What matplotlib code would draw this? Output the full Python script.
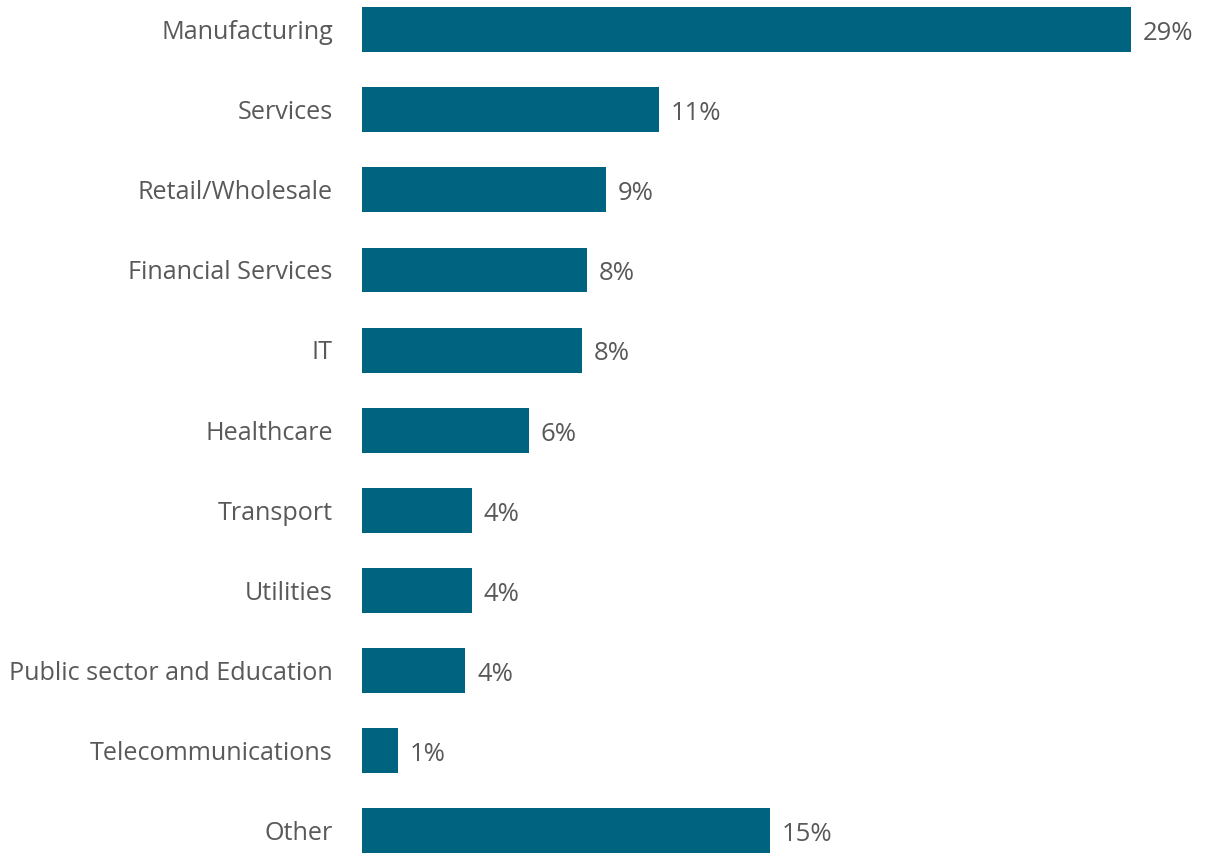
import numpy as np
import matplotlib.pyplot as plt

sectors = ["Manufacturing", "Services", "Retail/Wholesale", "Financial Services", "IT",
           "Healthcare", "Transport", "Utilities", "Public sector and Education",
           "Telecommunications", "Other"]
share = [29.0, 11.2, 9.2, 8.5, 8.3, 6.3, 4.15, 4.15, 3.9, 1.35, 15.4]

bar_color = "#00637f"
text_color = "#595959"

plt.rcParams["font.family"] = ["Open Sans", "DejaVu Sans"]

fig = plt.figure(figsize=(12.05, 8.54), dpi=100)
ax = fig.add_axes([362 / 1205, 0, 1 - 362 / 1205, 1])

y = np.arange(len(sectors))
ax.barh(y + 0.015, share, height=0.56, color=bar_color)

# value labels just past the bar ends
for yi, v in zip(y, share):
    ax.text(v + 0.45, yi + 0.05, f"{v:.0f}%", va="center", ha="left",
            fontsize=18.5, color=text_color)

ax.set_yticks(y, sectors)
ax.tick_params(axis="y", length=0, pad=21, labelsize=18.1, labelcolor=text_color)
ax.set_xticks([])
ax.set_xlim(0, 31.81)
ax.set_ylim(10.293, -0.368)
for s in ax.spines.values():
    s.set_visible(False)

fig.savefig("out.png", dpi=100)
